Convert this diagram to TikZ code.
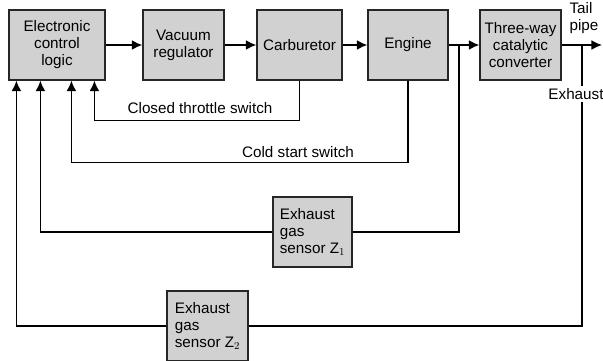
\documentclass[tikz,border=0pt]{standalone}
\usepackage{fontspec}
\setsansfont{Liberation Sans}
\usetikzlibrary{arrows.meta}

\begin{document}
\begin{tikzpicture}[x=0.03cm, y=-0.03cm, >={Latex[length=9pt,width=8.5pt]},
    line width=1.5pt, font=\sffamily\fontsize{13}{14.5}\selectfont]
  \tikzstyle{blk}=[draw=black!85, fill=black!18, line width=1pt,
                   minimum width=2.43cm, minimum height=2.1cm, align=center, inner sep=2pt]
  \tikzstyle{sns}=[blk, align=left]
  \useasboundingbox (0,0) rectangle (603,361);

  % --- main chain ---
  \node[blk, minimum width=2.88cm] (ecl) at (57,45) {Electronic\\control\\logic};
  \node[blk] (vac) at (183.5,45) {Vacuum\\regulator};
  \node[blk, minimum width=2.55cm] (carb) at (299.5,45) {Carburetor};
  \node[blk, minimum width=2.4cm] (eng) at (408,45) {Engine};
  \node[blk] (cat) at (520.5,45) {Three-way\\catalytic\\converter};
  \coordinate (j1) at (459,45);
  \coordinate (j2) at (582,45);
  \coordinate (tail) at (602,45);
  \draw[->] (ecl) -- (vac);
  \draw[->] (vac) -- (carb);
  \draw[->] (carb) -- (eng);
  \draw[->] (eng) -- (cat);
  \draw[->] (cat) -- (tail);
  \node[align=left] (tp) at (584,18) {Tail\\pipe};

  % --- switches ---
  \draw[->] (carb.south) -- ++(0,40) -| ([xshift=2.58cm]ecl.south west);
  \node (cts) at (200,108) {Closed throttle switch};
  \draw[->] (eng.south) -- ++(0,82) -| ([xshift=1.89cm]ecl.south west);
  \node (css) at (298,152) {Cold start switch};

  % --- sensors ---
  \node[sns, minimum width=2.37cm] (z1) at (312.5,232) {Exhaust\\gas\\sensor Z$_1$};
  \draw (j1) |- (z1.east);
  \draw[->] (z1.west) -| ([xshift=0.96cm]ecl.south west);
  \node[sns] (z2) at (207.5,326) {Exhaust\\gas\\sensor Z$_2$};
  \draw (j2) |- (z2.east);
  \draw[->] (z2.west) -| ([xshift=0.24cm]ecl.south west);
  \node[fill=white, inner sep=2pt] (exh) at (576,94) {Exhaust};
\end{tikzpicture}
\end{document}
